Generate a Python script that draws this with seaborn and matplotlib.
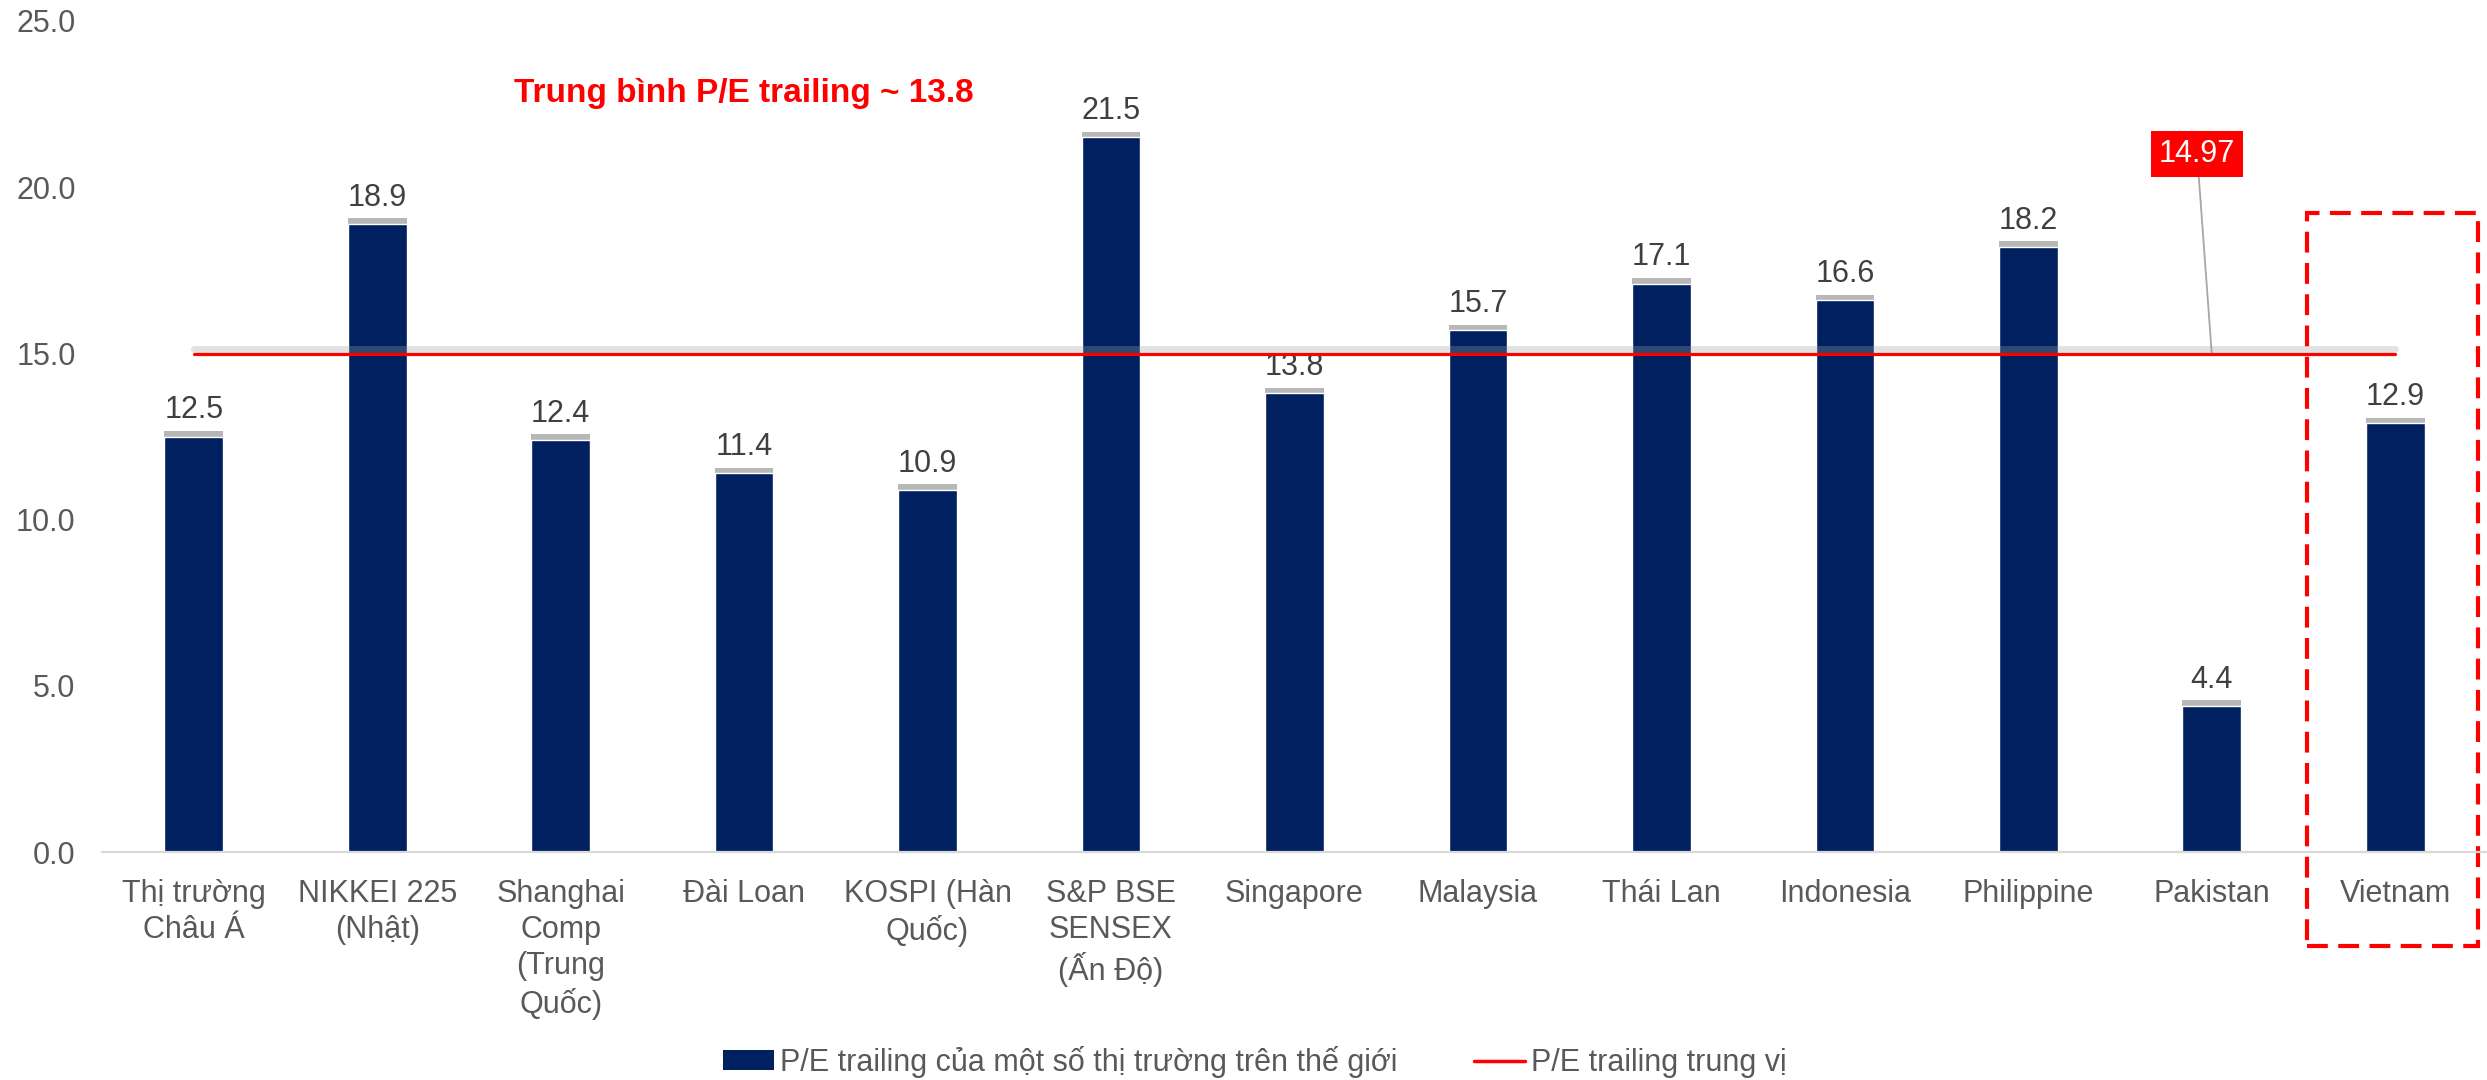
import matplotlib
matplotlib.use("Agg")
import matplotlib.pyplot as plt
import seaborn as sns
import pandas as pd
from matplotlib import patheffects as pe
from matplotlib.patches import Rectangle, Patch
from matplotlib.lines import Line2D

# ---------------- data ----------------
categories = ["Thị trường Châu Á", "NIKKEI 225 (Nhật)", "Shanghai Comp (Trung Quốc)",
              "Đài Loan", "KOSPI (Hàn Quốc)", "S&P BSE SENSEX (Ấn Độ)", "Singapore",
              "Malaysia", "Thái Lan", "Indonesia", "Philippine", "Pakistan", "Vietnam"]
tick_labels = ["Thị trường\nChâu Á", "NIKKEI 225\n(Nhật)", "Shanghai\nComp\n(Trung\nQuốc)",
               "Đài Loan", "KOSPI (Hàn\nQuốc)", "S&P BSE\nSENSEX\n(Ấn Độ)", "Singapore",
               "Malaysia", "Thái Lan", "Indonesia", "Philippine", "Pakistan", "Vietnam"]
pe_values = [12.5, 18.9, 12.4, 11.4, 10.9, 21.5, 13.8, 15.7, 17.1, 16.6, 18.2, 4.4, 12.9]
median_pe = 14.97
median_values = [median_pe] * len(categories)
series_bar = "P/E trailing của một số thị trường trên thế giới"
series_line = "P/E trailing trung vị"
avg_text = "Trung bình P/E trailing ~ 13.8"
median_text = "14.97"
y_ticks = [0, 5, 10, 15, 20, 25]

BAR = "#002060"
TXT = "#595959"
LBL = "#404040"

sns.set_theme(style="white")
plt.rcParams["font.family"] = ["Liberation Sans", "DejaVu Sans"]

fig = plt.figure(figsize=(24.87, 10.8), dpi=100)
ax = fig.add_axes([0.041, 0.211, 0.959, 0.7696])

df = pd.DataFrame({"market": categories, "pe": pe_values})
sns.barplot(data=df, x="market", y="pe", color=BAR, width=0.32, saturation=1, ax=ax)
for p in ax.patches:
    p.set_path_effects([pe.SimplePatchShadow(offset=(0, 4), shadow_rgbFace="#707070", alpha=0.5),
                        pe.Normal()])

dfl = pd.DataFrame({"x": list(range(len(categories))), "y": median_values})
sns.lineplot(data=dfl, x="x", y="y", color="red", lw=2.3, ax=ax, zorder=5,
             path_effects=[pe.SimpleLineShadow(offset=(0, 4), shadow_color="#a0a0a0", alpha=0.3, linewidth=5),
                           pe.Normal()])

ax.set_xlim(-0.5, len(categories) - 0.5)
ax.set_ylim(0, 25)
ax.set_xlabel("")
ax.set_ylabel("")
for s in ["top", "right", "left"]:
    ax.spines[s].set_visible(False)
ax.spines["bottom"].set_color("#d9d9d9")
ax.spines["bottom"].set_linewidth(1.6)
ax.grid(False)

ax.set_yticks(y_ticks)
ax.set_yticklabels([f"{t:.1f}" for t in y_ticks], fontsize=22, color=TXT)
ax.set_xticks(range(len(categories)))
ax.set_xticklabels(tick_labels, fontsize=22, color=TXT, linespacing=1.27)
ax.tick_params(axis="y", length=0, pad=19)
ax.tick_params(axis="x", length=0, pad=19)

for i, v in enumerate(pe_values):
    ax.annotate(f"{v:.1f}", xy=(i, v), xytext=(0, 8), textcoords="offset points",
                ha="center", va="bottom", fontsize=22, color=LBL)

# callout
ax.annotate(median_text, xy=(11.0, median_pe), xytext=(10.92, 21.0), textcoords="data",
            ha="center", va="center", color="white", fontsize=22,
            bbox=dict(boxstyle="square,pad=0.26", fc="red", ec="none"),
            arrowprops=dict(arrowstyle="-", color="#a6a6a6", lw=1.3, shrinkA=0, shrinkB=0))

# average text
fig.text(0.299, 0.9055, avg_text, ha="center", va="baseline", fontsize=24,
         fontweight="bold", color="red")

# dashed highlight box around Vietnam
ax.add_patch(Rectangle((11.52, -2.83), 0.93, 22.05, fill=False, ec="red", lw=3,
                       ls=(0, (5, 2.5)), clip_on=False))

handles = [Patch(fc=BAR, ec="none"), Line2D([0], [0], color="red", lw=2.5)]
fig.legend(handles, [series_bar, series_line], loc="center", bbox_to_anchor=(0.5046, 0.0167),
           ncol=2, frameon=False, fontsize=22, handlelength=1.67, handleheight=0.6,
           handletextpad=0.2, columnspacing=2.5, labelcolor=TXT)

fig.savefig("out.png", dpi=100)
